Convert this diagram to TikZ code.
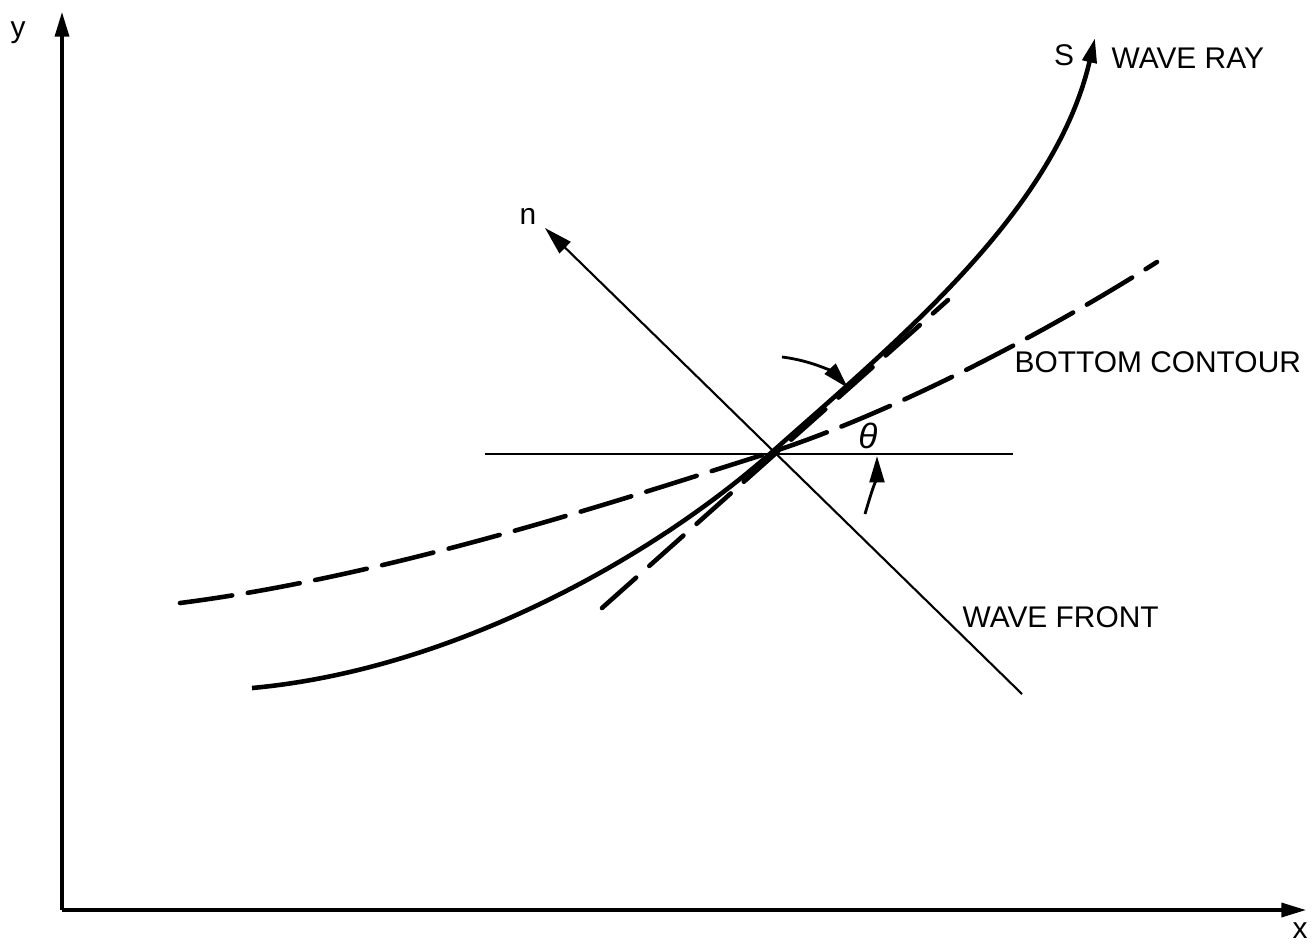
\documentclass[tikz,border=0pt]{standalone}
\usepackage{fontspec}
\setmainfont{Liberation Sans}
\usetikzlibrary{calc, positioning, arrows.meta}

\begin{document}
\begin{tikzpicture}[
  x=0.01cm, y=-0.01cm,
  lbl/.style={font=\fontsize{8.5}{10}\selectfont, inner sep=0pt},
  axis/.style={line width=0.9pt, -{Triangle[length=7pt, width=4pt]}},
  ray/.style={line width=1.3pt, -{Triangle[length=7pt, width=4pt]}},
  contour/.style={line width=1.3pt, line cap=round, dash pattern=on 15pt off 4.5pt},
  tangent/.style={line width=1.3pt, line cap=round, dash pattern=on 13pt off 5pt},
  thinline/.style={line width=0.6pt},
  anglearrow/.style={line width=0.8pt, -{Triangle[length=7.5pt, width=4.2pt]}}
]
\useasboundingbox (0,0) rectangle (1314,944);

% --- Axes ---
\coordinate (O) at (62,910);
\coordinate (xend) at (1306,910);
\coordinate (yend) at (62,12);
\draw[axis] (O) -- (xend);
\draw[axis] (O) -- (yend);
\node[lbl] (ylab) at (18,33) {y};
\node[lbl] (xlab) at (1300,931) {x};

% --- Point on the ray ---
\coordinate (P) at (772,452);

% --- Horizontal reference line ---
\coordinate (hl) at (485,454);
\coordinate (hr) at (1013,454);
\draw[thinline] (hl) -- (hr);

% --- Wave front and normal n ---
\coordinate (wf) at (1022,694);
\coordinate (ntip) at (545,228);
\draw[thinline, -{Triangle[length=8pt, width=4.5pt]}] (wf) -- (ntip);
\node[lbl] (nlab) at (528,216) {n};
\node[lbl, anchor=west] (wflab) at (962,617) {WAVE FRONT};

% --- Bottom contour (dashed) ---
\coordinate (bc1) at (180,603);
\coordinate (bc2) at (1157,262);
\draw[contour] (bc1) .. controls (400,575) and (650,490) .. (P)
  .. controls (900,410) and (1050,330) .. (bc2);
\node[lbl, anchor=west] (bclab) at (1014,362) {BOTTOM CONTOUR};

% --- Tangent to the ray (dashed) ---
\coordinate (t1) at (602,608);
\coordinate (t2) at (948,300);
\draw[tangent] (t1) -- (t2);

% --- Wave ray ---
\coordinate (r0) at (252,688);
\coordinate (rtip) at (1095,38);
\draw[ray] (r0) .. controls (450,670) and (650,560) .. (P)
  .. controls (902,337) and (1055,210) .. (rtip);
\node[lbl] (slab) at (1064,55) {S};
\node[lbl, anchor=west] (wrlab) at (1111,58) {WAVE RAY};

% --- Angle theta ---
\coordinate (a1) at (782,357);
\coordinate (a1tip) at (848,388);
\draw[anglearrow] (a1) .. controls (815,361) and (835,374) .. (a1tip);
\coordinate (a2) at (865,514);
\coordinate (a2tip) at (877,456);
\draw[anglearrow] (a2) .. controls (872,490) and (877,475) .. (a2tip);
\node[lbl, font=\fontsize{10}{12}\selectfont\itshape] (theta) at (868,436) {θ};

\end{tikzpicture}
\end{document}
